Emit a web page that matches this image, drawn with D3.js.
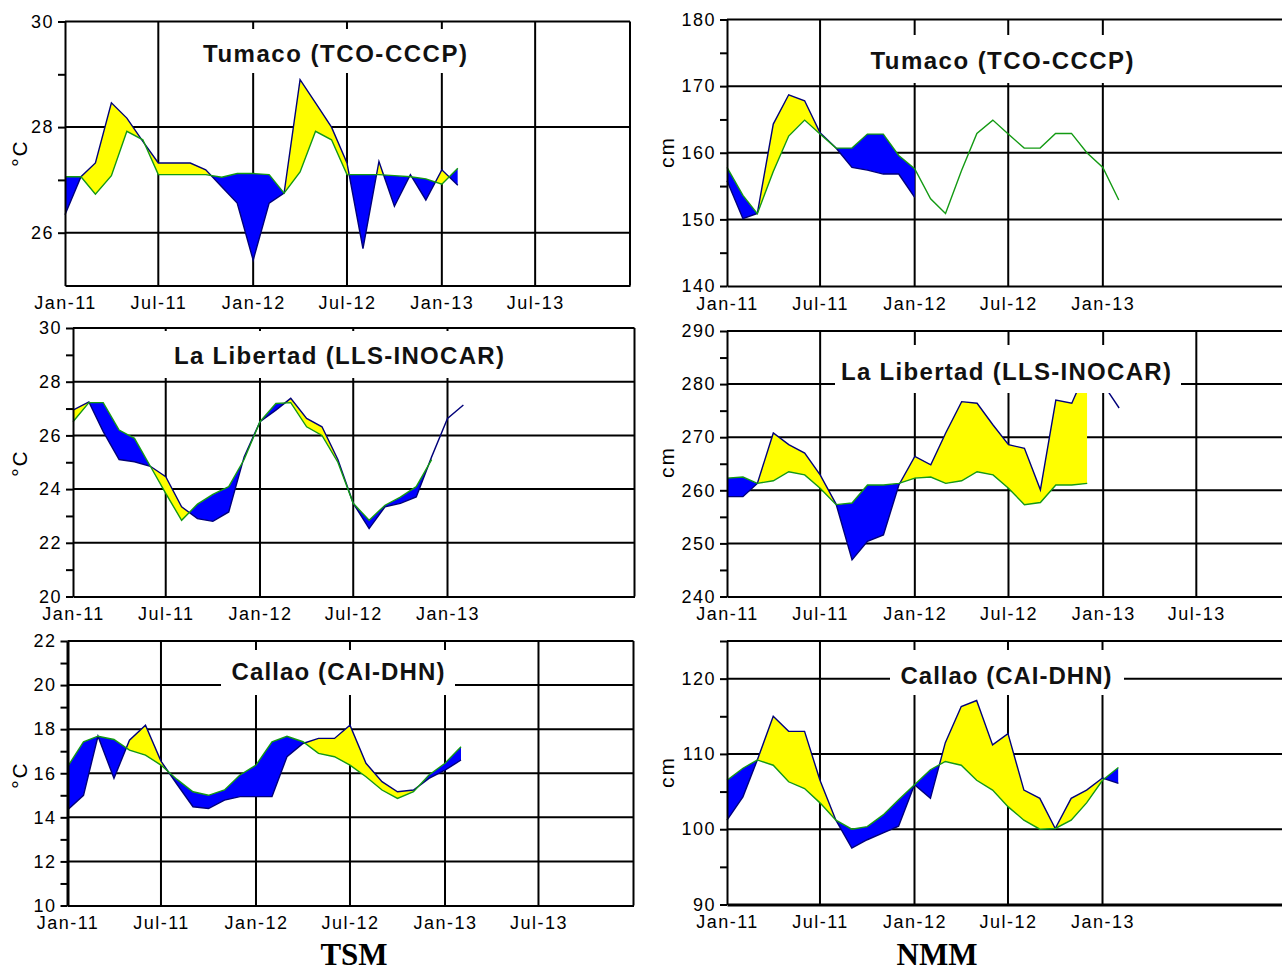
<!DOCTYPE html>
<html>
<head>
<meta charset="utf-8">
<script src="https://cdn.jsdelivr.net/npm/d3@7"></script>
<style>
  body { margin: 0; background: #fff; }
  svg { display: block; background: #fff; }
  .tick text { font-family: "Liberation Sans", Arial, sans-serif; font-size: 18px; letter-spacing: 1.5px; fill: #000; }
</style>
</head>
<body>
<svg id="chart" width="1282" height="974"></svg>
<script>
// monthly points, Jan-11 .. Feb-13
const months = d3.timeMonth.range(new Date(2011, 0, 1), new Date(2013, 2, 1));

// tick labels on the time axis
const xTicksLong = ["2011-01", "2011-07", "2012-01", "2012-07", "2013-01", "2013-07"];
const xTicksShort = ["2011-01", "2011-07", "2012-01", "2012-07", "2013-01"];

// TSM Tumaco (observed / climatology, degC)
const tsmTumacoObs = [26.34, 27.06, 27.32, 28.46, 28.17, 27.73, 27.32, 27.32, 27.32, 27.19, 26.87, 26.56, 25.48,
  26.56, 26.75, 28.9, 28.46, 28.0, 27.32, 25.7, 27.35, 26.5, 27.1, 26.62, 27.19, 26.9];
const tsmTumacoClim = [27.06, 27.06, 26.73, 27.08, 27.92, 27.76, 27.1, 27.1, 27.1, 27.1, 27.05, 27.12, 27.12,
  27.1, 26.75, 27.15, 27.92, 27.76, 27.1, 27.1, 27.1, 27.08, 27.06, 27.02, 26.92, 27.22];

// NMM Tumaco (cm)
const nmmTumacoObs = [155.8, 150.1, 150.9, 164.3, 168.7, 167.8, 163.0, 160.7, 157.8, 157.4, 156.8, 156.8, 153.3,
  null, null, null, null, null, null, null, null, null, null, null, null, null];
const nmmTumacoClim = [157.8, 153.6, 150.85, 157.2, 162.5, 164.9, 162.8, 160.7, 160.7, 162.8, 162.8, 159.6, 157.6,
  153.1, 150.9, 157.3, 162.9, 164.9, 162.8, 160.7, 160.7, 162.9, 162.9, 160.0, 157.8, 152.9];

// TSM La Libertad (degC)
const tsmLibertadObs = [26.94, 27.25, 26.14, 25.1, 25.02, 24.85, 24.46, 23.34, 22.9, 22.8, 23.15, 25.2, 26.51,
  26.94, 27.38, 26.63, 26.32, 25.1, 23.47, 22.53, 23.34, 23.47, 23.71, 25.2, 26.63, 27.13];
const tsmLibertadClim = [26.51, 27.22, 27.22, 26.2, 25.89, 24.85, 23.84, 22.84, 23.44, 23.8, 24.09, 25.1, 26.51,
  27.19, 27.22, 26.32, 26.0, 25.0, 23.47, 22.84, 23.4, 23.7, 24.09, 25.1, null, null];

// NMM La Libertad (cm)
const nmmLibertadObs = [258.8, 258.8, 261.3, 270.8, 268.6, 267.0, 262.9, 257.4, 246.9, 250.4, 251.6, 261.0, 266.4,
  264.8, 270.8, 276.7, 276.4, 272.3, 268.6, 267.9, 260.1, 277.0, 276.4, 283.0, 280.0, 275.5];
const nmmLibertadClim = [262.3, 262.5, 261.3, 261.8, 263.5, 262.9, 260.4, 257.3, 257.6, 261.0, 261.0, 261.3, 262.3,
  262.5, 261.3, 261.8, 263.5, 262.9, 260.4, 257.3, 257.7, 261.0, 261.0, 261.3, null, null];

// TSM Callao (degC)
const tsmCallaoObs = [14.33, 15.0, 17.68, 15.77, 17.5, 18.18, 16.55, 15.5, 14.48, 14.4, 14.78, 14.94, 14.94,
  14.94, 16.75, 17.35, 17.58, 17.58, 18.18, 16.45, 15.62, 15.16, 15.24, 15.77, 16.14, 16.6];
const tsmCallaoClim = [16.29, 17.43, 17.68, 17.53, 17.05, 16.82, 16.37, 15.72, 15.16, 15.0, 15.24, 15.92, 16.37,
  17.43, 17.68, 17.43, 16.9, 16.75, 16.37, 15.84, 15.24, 14.86, 15.16, 15.92, 16.45, 17.2];

// NMM Callao (cm)
const nmmCallaoObs = [101.2, 104.3, 109.2, 115.0, 113.0, 113.0, 106.5, 101.2, 97.5, 98.6, 99.5, 100.4, 105.9,
  104.1, 111.5, 116.3, 117.1, 111.2, 112.7, 105.2, 104.1, 100.1, 104.1, 105.2, 106.8, 106.1];
const nmmCallaoClim = [106.5, 108.1, 109.2, 108.5, 106.3, 105.4, 103.5, 101.2, 100.0, 100.35, 101.9, 103.9, 105.9,
  107.9, 109.0, 108.5, 106.5, 105.2, 103.0, 101.2, 100.0, 100.1, 101.2, 103.5, 106.5, 108.2];

// y tick values
const tsmTumacoMajor = [26, 28, 30], tsmTumacoMinor = [27, 29];
const nmmTumacoMajor = [140, 150, 160, 170, 180], nmmTumacoMinor = [145, 155, 165, 175];
const tsmLibertadMajor = [20, 22, 24, 26, 28, 30], tsmLibertadMinor = [21, 23, 25, 27, 29];
const nmmLibertadMajor = [240, 250, 260, 270, 280, 290], nmmLibertadMinor = [245, 255, 265, 275, 285];
const tsmCallaoMajor = [10, 12, 14, 16, 18, 20, 22], tsmCallaoMinor = [11, 13, 15, 17, 19, 21];
const nmmCallaoMajor = [90, 100, 110, 120], nmmCallaoMinor = [95, 105, 115, 125];

const panels = [
  { obs: tsmTumacoObs, clim: tsmTumacoClim, major: tsmTumacoMajor, minor: tsmTumacoMinor, yDomain: [25, 30],
    xTicks: xTicksLong, title: "Tumaco (TCO-CCCP)", unit: "°C",
    left: 65, right: 630, top: 21.5, bottom: 285.5,
    box: [190, 29, 480, 73], titleX: 335, titleY: 62, titleW: 264, unitX: 20, unitY: 153 },
  { obs: nmmTumacoObs, clim: nmmTumacoClim, major: nmmTumacoMajor, minor: nmmTumacoMinor, yDomain: [140, 180],
    xTicks: xTicksShort, title: "Tumaco (TCO-CCCP)", unit: "cm",
    left: 727, right: 1290.5, top: 19.5, bottom: 286,
    box: [860, 35, 1145, 83], titleX: 1002, titleY: 69, titleW: 263, unitX: 667, unitY: 152 },
  { obs: tsmLibertadObs, clim: tsmLibertadClim, major: tsmLibertadMajor, minor: tsmLibertadMinor, yDomain: [20, 30],
    xTicks: xTicksShort, title: "La Libertad (LLS-INOCAR)", unit: "°C",
    left: 73, right: 634.5, top: 328, bottom: 596.5,
    box: [160, 331, 520, 378], titleX: 339, titleY: 364, titleW: 330, unitX: 20, unitY: 463 },
  { obs: nmmLibertadObs, clim: nmmLibertadClim, major: nmmLibertadMajor, minor: nmmLibertadMinor, yDomain: [240, 290],
    xTicks: xTicksLong, title: "La Libertad (LLS-INOCAR)", unit: "cm",
    left: 727, right: 1291, top: 331, bottom: 596.5,
    box: [835, 345, 1181, 393], titleX: 1006, titleY: 380, titleW: 330, unitX: 667, unitY: 462 },
  { obs: tsmCallaoObs, clim: tsmCallaoClim, major: tsmCallaoMajor, minor: tsmCallaoMinor, yDomain: [10, 22],
    xTicks: xTicksLong, title: "Callao (CAI-DHN)", unit: "°C",
    left: 67.5, right: 633.5, top: 641, bottom: 905.5, leftWidth: 3,
    box: [221, 650, 455, 695], titleX: 338, titleY: 680, titleW: 213, unitX: 20, unitY: 775 },
  { obs: nmmCallaoObs, clim: nmmCallaoClim, major: nmmCallaoMajor, minor: nmmCallaoMinor, yDomain: [90, 125],
    xTicks: xTicksShort, title: "Callao (CAI-DHN)", unit: "cm",
    left: 727, right: 1290, top: 641, bottom: 904.5, bottomWidth: 3,
    box: [890, 650, 1124, 695], titleX: 1006, titleY: 684, titleW: 211, unitX: 667, unitY: 772 }
];

const svg = d3.select("#chart");
const defs = svg.append("defs");
const parseMonth = d3.timeParse("%Y-%m");
const fmt = d3.timeFormat("%b-%y");
const idx = d3.range(months.length);

panels.forEach((p, k) => {
  const x = d3.scaleTime()
    .domain([new Date(2011, 0, 1), new Date(2014, 0, 1)])
    .range([p.left, p.right]);
  const y = d3.scaleLinear().domain(p.yDomain).range([p.bottom, p.top]);
  const xt = p.xTicks.map(parseMonth);
  const g = svg.append("g");

  // grid
  g.selectAll(".hgrid")
    .data(p.major.filter(v => v > p.yDomain[0] && v < p.yDomain[1]))
    .join("line")
    .attr("x1", p.left).attr("x2", p.right)
    .attr("y1", d => y(d)).attr("y2", d => y(d))
    .attr("stroke", "#000").attr("stroke-width", 2);
  g.selectAll(".vgrid")
    .data(xt.slice(1))
    .join("line")
    .attr("x1", d => x(d)).attr("x2", d => x(d))
    .attr("y1", p.top).attr("y2", p.bottom)
    .attr("stroke", "#000").attr("stroke-width", 2);

  // difference fills: yellow above climatology, blue below
  const climDef = i => p.clim[i] != null;
  const both = i => p.obs[i] != null && p.clim[i] != null;
  defs.append("clipPath").attr("id", "above" + k).append("path")
    .attr("d", d3.area().defined(climDef).x(i => x(months[i]))
      .y0(p.top - 10).y1(i => y(p.clim[i]))(idx));
  defs.append("clipPath").attr("id", "below" + k).append("path")
    .attr("d", d3.area().defined(climDef).x(i => x(months[i]))
      .y0(p.bottom + 10).y1(i => y(p.clim[i]))(idx));
  const between = d3.area().defined(both).x(i => x(months[i]))
    .y0(i => y(p.clim[i])).y1(i => y(p.obs[i]));
  g.append("path").attr("clip-path", `url(#above${k})`).attr("fill", "#ffff00").attr("d", between(idx));
  g.append("path").attr("clip-path", `url(#below${k})`).attr("fill", "#0000ff").attr("d", between(idx));

  // lines
  const line = arr => d3.line().defined(i => arr[i] != null)
    .x(i => x(months[i])).y(i => y(arr[i]))(idx);
  g.append("path").attr("d", line(p.obs)).attr("fill", "none")
    .attr("stroke", "#00007a").attr("stroke-width", 1.4);
  g.append("path").attr("d", line(p.clim)).attr("fill", "none")
    .attr("stroke", "#139a13").attr("stroke-width", 1.4);

  // title on a white box
  g.append("rect")
    .attr("x", p.box[0]).attr("y", p.box[1])
    .attr("width", p.box[2] - p.box[0]).attr("height", p.box[3] - p.box[1])
    .attr("fill", "#fff");
  g.append("text")
    .attr("x", p.titleX - p.titleW / 2).attr("y", p.titleY)
    .attr("textLength", p.titleW).attr("lengthAdjust", "spacing")
    .attr("font-family", "Liberation Sans, Arial, sans-serif")
    .attr("font-weight", "bold").attr("font-size", 24)
    .attr("fill", "#111")
    .text(p.title);

  // borders
  g.append("line").attr("x1", p.left).attr("x2", p.right).attr("y1", p.top).attr("y2", p.top)
    .attr("stroke", "#000").attr("stroke-width", 2);
  g.append("line").attr("x1", p.right).attr("x2", p.right).attr("y1", p.top).attr("y2", p.bottom)
    .attr("stroke", "#000").attr("stroke-width", 2);

  // axes
  const yAxis = g.append("g")
    .attr("transform", `translate(${p.left},0)`)
    .call(d3.axisLeft(y)
      .tickValues(p.minor.concat(p.major))
      .tickSize(7).tickSizeOuter(0).tickPadding(4)
      .tickFormat(d => p.major.includes(d) ? d : ""));
  yAxis.selectAll("line").attr("stroke", "#000").attr("stroke-width", 2);
  yAxis.select(".domain").attr("stroke", "#000").attr("stroke-width", p.leftWidth || 2);
  yAxis.attr("font-family", null).attr("font-size", null);

  const xAxis = g.append("g")
    .attr("transform", `translate(0,${p.bottom})`)
    .call(d3.axisBottom(x)
      .tickValues(xt).tickSize(0).tickSizeOuter(0).tickPadding(11)
      .tickFormat(fmt));
  xAxis.select(".domain").attr("stroke", "#000").attr("stroke-width", p.bottomWidth || 2);
  xAxis.attr("font-family", null).attr("font-size", null);

  // unit label
  g.append("text")
    .attr("transform", `translate(${p.unitX},${p.unitY}) rotate(-90)`)
    .attr("text-anchor", "middle").attr("dy", "0.35em")
    .attr("font-family", "Liberation Sans, Arial, sans-serif")
    .attr("font-size", 21).attr("letter-spacing", 2)
    .text(p.unit);
});

// column captions
svg.append("text").attr("x", 354).attr("y", 965).attr("text-anchor", "middle")
  .attr("font-family", "Liberation Serif, Times New Roman, serif")
  .attr("font-weight", "bold").attr("font-size", 31).text("TSM");
svg.append("text").attr("x", 937).attr("y", 965).attr("text-anchor", "middle")
  .attr("font-family", "Liberation Serif, Times New Roman, serif")
  .attr("font-weight", "bold").attr("font-size", 31).text("NMM");
</script>
</body>
</html>
